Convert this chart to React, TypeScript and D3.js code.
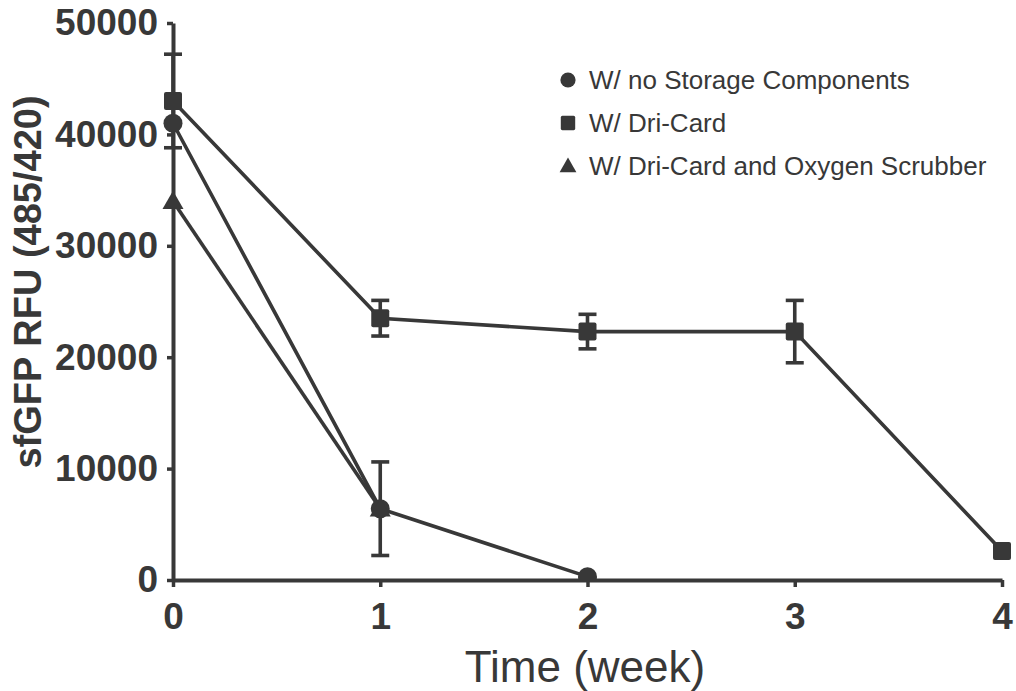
import React, { useEffect, useRef } from "react";
import * as d3 from "d3";

// Weeks of storage on the x axis
const weeks = [0, 1, 2, 3, 4];
const yTicks = [0, 10000, 20000, 30000, 40000, 50000];

// sfGFP fluorescence (mean, SD) per condition
const noStorageWeeks = [0, 1, 2];
const noStorageMean = [41000, 6400, 300];
const noStorageSd = [0, 4200, 0];

const driCardWeeks = [0, 1, 2, 3, 4];
const driCardMean = [43000, 23500, 22300, 22300, 2600];
const driCardSd = [4200, 1600, 1550, 2800, 0];

const scrubberWeeks = [0, 1];
const scrubberMean = [34000, 6400];
const scrubberSd = [0, 0];

const seriesNames = [
  "W/ no Storage Components",
  "W/ Dri-Card",
  "W/ Dri-Card and Oxygen Scrubber",
];

const INK = "#383838";
const FONT = "'Liberation Sans', Arial, Helvetica, sans-serif";

type Shape = "circle" | "square" | "triangle";

function Marker({ shape, x, y, k = 1 }: { shape: Shape; x: number; y: number; k?: number }) {
  if (shape === "circle") return <circle cx={x} cy={y} r={9.5 * k} fill={INK} />;
  if (shape === "square") {
    const h = 9 * k;
    return <rect x={x - h} y={y - h} width={2 * h} height={2 * h} rx={2 * k} fill={INK} />;
  }
  const s = 10.5 * k;
  return (
    <path
      d={`M${x},${y - s}L${x + s},${y + s * 0.75}L${x - s},${y + s * 0.75}Z`}
      fill={INK}
    />
  );
}

export default function App() {
  const width = 1016;
  const height = 691;
  const x = d3.scaleLinear().domain([0, 4]).range([173, 1002]);
  const y = d3.scaleLinear().domain([0, 50000]).range([580, 23]);

  const xAxisRef = useRef<SVGGElement>(null);
  const yAxisRef = useRef<SVGGElement>(null);

  useEffect(() => {
    const xa = d3
      .axisBottom(x)
      .tickValues(weeks)
      .tickFormat(d3.format("d"))
      .tickSize(7)
      .tickSizeOuter(0)
      .tickPadding(16);
    const ya = d3
      .axisLeft(y)
      .tickValues(yTicks)
      .tickFormat(d3.format("d"))
      .tickSize(6)
      .tickSizeOuter(0)
      .tickPadding(9);
    const gx = d3.select(xAxisRef.current!).call(xa as any);
    const gy = d3.select(yAxisRef.current!).call(ya as any);
    [gx, gy].forEach((g) => {
      g.selectAll("path.domain").attr("stroke", INK).attr("stroke-width", 4);
      g.selectAll(".tick line").attr("stroke", INK).attr("stroke-width", 3.5);
      g.selectAll(".tick text")
        .attr("fill", INK)
        .style("font-family", FONT)
        .style("font-size", "37px")
        .style("font-weight", "bold");
    });
  }, []);

  const line = d3
    .line<[number, number]>()
    .x((d) => x(d[0]))
    .y((d) => y(d[1]));

  const series: { shape: Shape; wk: number[]; mean: number[]; sd: number[] }[] = [
    { shape: "circle", wk: noStorageWeeks, mean: noStorageMean, sd: noStorageSd },
    { shape: "square", wk: driCardWeeks, mean: driCardMean, sd: driCardSd },
    { shape: "triangle", wk: scrubberWeeks, mean: scrubberMean, sd: scrubberSd },
  ];

  const legendY = [80, 123, 166];

  return (
    <svg
      width={width}
      height={height}
      style={{ position: "absolute", left: 0, top: 0, background: "#fff" }}
    >
      <defs>
        <clipPath id="plot-clip">
          <rect x={0} y={0} width={width} height={580} />
        </clipPath>
      </defs>

      <g clipPath="url(#plot-clip)">
        {series.map((s, i) => (
          <path
            key={"l" + i}
            d={line(s.wk.map((w, j) => [w, s.mean[j]]))!}
            fill="none"
            stroke={INK}
            strokeWidth={3.6}
          />
        ))}
        {series.map((s, i) =>
          s.wk.map((w, j) =>
            s.sd[j] > 0 ? (
              <g key={`e${i}-${j}`} stroke={INK} strokeWidth={3.6}>
                <line x1={x(w)} x2={x(w)} y1={y(s.mean[j] - s.sd[j])} y2={y(s.mean[j] + s.sd[j])} />
                <line x1={x(w) - 9} x2={x(w) + 9} y1={y(s.mean[j] + s.sd[j])} y2={y(s.mean[j] + s.sd[j])} />
                <line x1={x(w) - 9} x2={x(w) + 9} y1={y(s.mean[j] - s.sd[j])} y2={y(s.mean[j] - s.sd[j])} />
              </g>
            ) : null
          )
        )}
        {series.map((s, i) =>
          s.wk.map((w, j) => (
            <Marker key={`m${i}-${j}`} shape={s.shape} x={x(w)} y={y(s.mean[j])} />
          ))
        )}
      </g>

      <g ref={xAxisRef} transform="translate(0,580)" />
      <g ref={yAxisRef} transform="translate(173,0)" />

      <text
        x={585}
        y={682}
        textAnchor="middle"
        fill={INK}
        style={{ fontFamily: FONT, fontSize: 44 }}
      >
        Time (week)
      </text>
      <text
        transform="translate(41,282) rotate(-90)"
        textAnchor="middle"
        fill={INK}
        style={{ fontFamily: FONT, fontSize: 38, fontWeight: "bold" }}
      >
        sfGFP RFU (485/420)
      </text>

      {series.map((s, i) => (
        <g key={"lg" + i}>
          <Marker shape={s.shape} x={568} y={legendY[i]} k={0.8} />
          <text
            x={589}
            y={legendY[i]}
            dy="0.35em"
            fill={INK}
            style={{ fontFamily: FONT, fontSize: 26 }}
          >
            {seriesNames[i]}
          </text>
        </g>
      ))}
    </svg>
  );
}
